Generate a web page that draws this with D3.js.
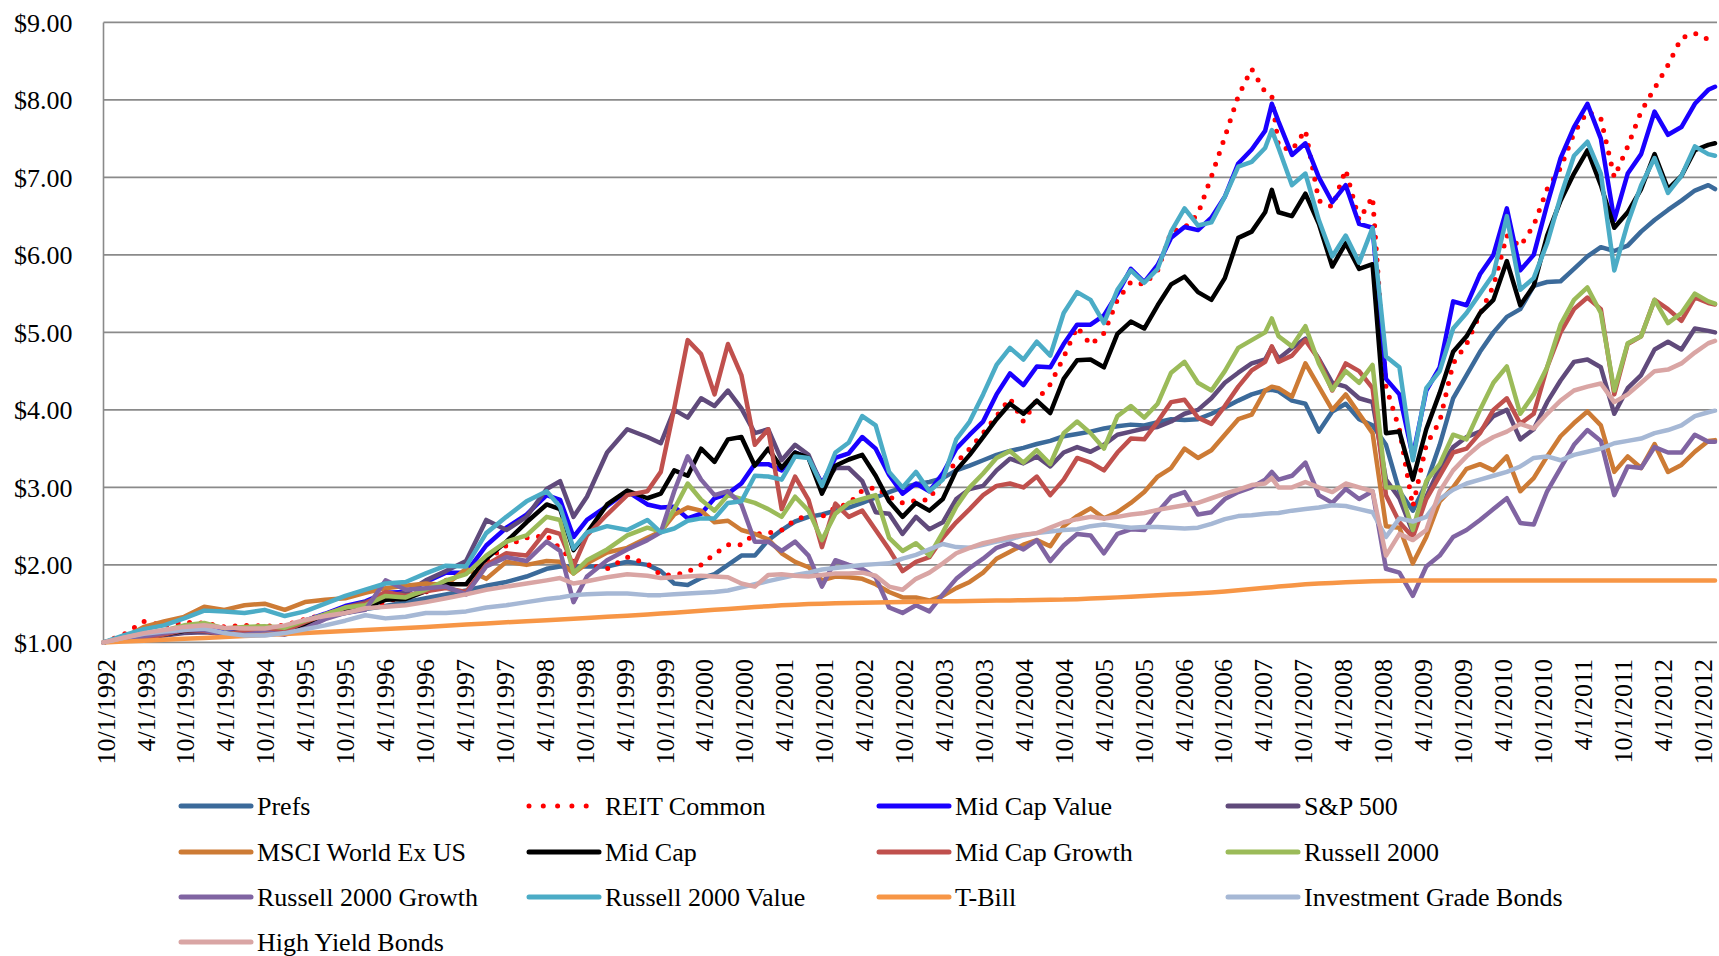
<!DOCTYPE html>
<html>
<head>
<meta charset="utf-8">
<script src="https://cdn.jsdelivr.net/npm/d3@7"></script>
<style>
  body { margin: 0; background: #fff; }
  svg { display: block; font-family: "Liberation Serif", "Times New Roman", serif; }
</style>
</head>
<body>
<script>
"use strict";

// months after 10/1/1992 for each data point
const months = [0,3,6,9,12,15,18,21,24,27,30,33,36,39,42,45,48,51,54,57,60,63,66,
  68,70,72,75,78,81,
  83,85,87,89,91,93,95,97,99,101,
  103,105,107,109,111,113,115,117,119,121,
  123,125,127,129,131,133,135,137,139,141,
  143,145,147,149,151,153,155,157,159,161,
  163,165,167,169,171,173,174,175,177,179,181,
  183,185,187,189,191,193,195,197,199,201,
  203,205,207,209,211,213,215,217,219,221,
  223,225,227,229,231,233,235,237,239,240];

const tickLabels = ["10/1/1992","4/1/1993","10/1/1993","4/1/1994","10/1/1994","4/1/1995","10/1/1995",
  "4/1/1996","10/1/1996","4/1/1997","10/1/1997","4/1/1998","10/1/1998","4/1/1999","10/1/1999",
  "4/1/2000","10/1/2000","4/1/2001","10/1/2001","4/1/2002","10/1/2002","4/1/2003","10/1/2003",
  "4/1/2004","10/1/2004","4/1/2005","10/1/2005","4/1/2006","10/1/2006","4/1/2007","10/1/2007",
  "4/1/2008","10/1/2008","4/1/2009","10/1/2009","4/1/2010","10/1/2010","4/1/2011","10/1/2011",
  "4/1/2012","10/1/2012"];

const yTicks = [1,2,3,4,5,6,7,8,9];

const prefs = [1.00,1.05,1.10,1.14,1.17,1.19,1.16,1.15,1.16,1.21,1.27,1.33,1.38,1.43,1.47,1.52,1.57,1.62,1.67,1.73,1.78,1.85,1.95,
  1.98,1.98,1.98,1.98,2.04,2.00,
  1.92,1.76,1.74,1.83,1.88,2.00,2.12,2.12,2.32,2.45,
  2.56,2.62,2.65,2.70,2.74,2.80,2.87,2.94,3.00,3.04,
  3.07,3.12,3.22,3.28,3.35,3.42,3.47,3.51,3.56,3.60,
  3.66,3.69,3.72,3.76,3.79,3.81,3.80,3.84,3.88,3.87,
  3.88,3.95,4.03,4.12,4.20,4.25,4.26,4.24,4.12,4.08,3.72,
  3.98,4.08,3.88,3.80,3.55,2.95,2.70,3.05,3.55,4.15,
  4.45,4.75,5.00,5.20,5.30,5.60,5.65,5.66,5.82,5.98,
  6.10,6.05,6.12,6.30,6.45,6.58,6.70,6.83,6.90,6.85];

const reit = [1.00,1.10,1.27,1.22,1.26,1.25,1.20,1.22,1.21,1.22,1.30,1.36,1.40,1.45,1.52,1.60,1.65,1.80,1.90,2.05,2.25,2.35,2.38,
  2.21,2.05,2.00,1.95,2.10,2.02,
  1.87,1.87,1.91,2.00,2.14,2.26,2.26,2.40,2.41,2.45,
  2.58,2.64,2.62,2.74,2.79,2.96,3.00,2.88,2.80,2.83,
  2.84,3.15,3.32,3.50,3.70,3.92,4.15,3.85,4.13,4.33,
  4.68,5.07,4.84,4.99,5.42,5.65,5.62,5.80,6.30,6.35,
  6.53,7.01,7.52,8.05,8.40,8.10,8.05,7.40,7.35,7.61,6.70,
  6.62,7.10,6.45,6.75,4.30,3.75,2.75,3.55,3.85,4.60,
  4.85,5.24,5.60,6.25,6.11,6.38,6.85,7.12,7.57,7.85,
  7.76,7.00,7.40,7.85,8.15,8.45,8.80,8.86,8.78,8.76];

const midCapValue = [1.00,1.05,1.09,1.13,1.18,1.20,1.15,1.19,1.17,1.18,1.28,1.37,1.47,1.53,1.64,1.65,1.78,1.90,1.90,2.25,2.48,2.65,2.90,
  2.84,2.36,2.58,2.76,2.95,2.78,
  2.74,2.75,2.60,2.66,2.86,2.92,3.05,3.30,3.30,3.22,
  3.45,3.38,3.05,3.38,3.44,3.65,3.50,3.16,2.92,3.05,
  2.95,3.18,3.50,3.68,3.85,4.20,4.47,4.32,4.56,4.55,
  4.85,5.10,5.10,5.22,5.50,5.82,5.65,5.87,6.22,6.36,
  6.32,6.48,6.75,7.18,7.36,7.60,7.95,7.72,7.29,7.44,7.00,
  6.68,6.90,6.40,6.35,4.40,4.20,3.40,4.25,4.55,5.40,
  5.35,5.75,6.00,6.60,5.80,6.00,6.65,7.25,7.65,7.95,
  7.50,6.45,7.05,7.30,7.85,7.55,7.65,7.95,8.13,8.17];

const sp500 = [1.00,1.04,1.07,1.09,1.12,1.13,1.11,1.13,1.16,1.18,1.26,1.34,1.45,1.52,1.60,1.64,1.80,1.92,2.05,2.58,2.45,2.62,2.98,
  3.08,2.62,2.88,3.45,3.75,3.65,
  3.57,4.00,3.90,4.15,4.05,4.25,4.02,3.70,3.75,3.35,
  3.55,3.42,3.02,3.25,3.25,3.08,2.68,2.66,2.40,2.62,
  2.46,2.55,2.85,2.98,3.02,3.22,3.37,3.31,3.40,3.27,
  3.45,3.52,3.46,3.55,3.68,3.72,3.76,3.78,3.85,3.95,
  4.00,4.15,4.35,4.48,4.60,4.65,4.81,4.66,4.80,4.92,4.66,
  4.35,4.30,4.15,4.10,3.10,2.86,2.42,2.88,3.25,3.52,
  3.65,3.72,3.92,4.00,3.62,3.75,4.10,4.38,4.62,4.65,
  4.55,3.95,4.28,4.45,4.78,4.88,4.78,5.05,5.02,5.00];

const msciWorldExUS = [1.00,1.06,1.20,1.27,1.33,1.46,1.42,1.48,1.50,1.42,1.52,1.55,1.57,1.64,1.70,1.73,1.76,1.74,1.95,1.82,2.04,2.00,2.05,
  2.04,1.89,2.02,2.16,2.22,2.35,
  2.43,2.65,2.74,2.70,2.55,2.57,2.45,2.40,2.33,2.15,
  2.04,1.97,1.80,1.85,1.84,1.82,1.75,1.65,1.58,1.58,
  1.54,1.60,1.70,1.78,1.90,2.08,2.17,2.26,2.32,2.24,
  2.50,2.63,2.73,2.60,2.68,2.80,2.94,3.14,3.25,3.50,
  3.38,3.48,3.68,3.88,3.94,4.25,4.30,4.28,4.17,4.60,4.30,
  4.00,4.20,3.95,3.70,2.50,2.48,2.02,2.36,2.82,3.00,
  3.24,3.30,3.22,3.40,2.95,3.12,3.40,3.66,3.83,3.98,
  3.80,3.20,3.40,3.25,3.56,3.20,3.29,3.46,3.60,3.61];

const midCap = [1.00,1.05,1.06,1.10,1.15,1.16,1.11,1.14,1.12,1.14,1.22,1.32,1.40,1.46,1.55,1.56,1.66,1.75,1.75,2.08,2.30,2.55,2.78,
  2.72,2.19,2.41,2.78,2.96,2.86,
  2.92,3.22,3.15,3.50,3.33,3.62,3.65,3.28,3.50,3.25,
  3.45,3.38,2.92,3.28,3.36,3.42,3.15,2.82,2.62,2.80,
  2.70,2.85,3.22,3.42,3.65,3.88,4.08,3.95,4.12,3.96,
  4.40,4.64,4.65,4.55,4.98,5.14,5.05,5.35,5.62,5.72,
  5.52,5.42,5.70,6.22,6.30,6.55,6.84,6.55,6.50,6.79,6.40,
  5.85,6.15,5.82,5.88,3.70,3.72,3.10,3.75,4.22,4.75,
  4.95,5.25,5.42,5.92,5.35,5.60,6.25,6.70,7.05,7.35,
  6.90,6.35,6.55,6.85,7.30,6.85,7.02,7.35,7.42,7.44];

const midCapGrowth = [1.00,1.06,1.05,1.10,1.16,1.15,1.10,1.14,1.16,1.15,1.26,1.36,1.45,1.50,1.65,1.60,1.66,1.70,1.65,2.00,2.15,2.12,2.45,
  2.40,1.98,2.38,2.65,2.90,2.95,
  3.20,4.02,4.90,4.72,4.20,4.85,4.45,3.55,3.75,2.72,
  3.14,2.84,2.23,2.79,2.62,2.70,2.45,2.20,1.92,2.04,
  2.10,2.35,2.55,2.72,2.90,3.02,3.05,3.00,3.14,2.90,
  3.10,3.38,3.32,3.22,3.45,3.63,3.62,3.85,4.10,4.13,
  3.90,3.82,4.05,4.30,4.51,4.62,4.82,4.62,4.70,4.90,4.65,
  4.25,4.60,4.50,4.28,2.90,2.55,2.36,2.85,3.15,3.45,
  3.50,3.70,4.00,4.15,3.82,3.95,4.55,5.00,5.30,5.45,
  5.30,4.20,4.85,4.95,5.42,5.30,5.15,5.45,5.38,5.36];

const russell2000 = [1.00,1.07,1.10,1.15,1.22,1.25,1.18,1.20,1.21,1.19,1.28,1.36,1.45,1.48,1.60,1.58,1.68,1.80,1.88,2.12,2.30,2.38,2.62,
  2.58,1.89,2.06,2.20,2.38,2.48,
  2.43,2.72,3.05,2.84,2.70,2.90,2.85,2.80,2.72,2.62,
  2.88,2.70,2.32,2.66,2.80,2.85,2.90,2.35,2.18,2.28,
  2.12,2.42,2.75,3.00,3.18,3.38,3.47,3.32,3.48,3.30,
  3.70,3.85,3.70,3.50,3.92,4.05,3.90,4.08,4.48,4.62,
  4.35,4.25,4.50,4.80,4.90,5.00,5.18,4.95,4.82,5.08,4.60,
  4.26,4.50,4.35,4.58,3.00,3.00,2.45,3.08,3.30,3.68,
  3.62,4.00,4.35,4.56,3.95,4.20,4.55,5.10,5.42,5.58,
  5.25,4.25,4.86,4.95,5.42,5.12,5.25,5.50,5.40,5.37];

const russell2000Growth = [1.00,1.05,1.08,1.12,1.16,1.16,1.10,1.10,1.13,1.10,1.18,1.30,1.38,1.42,1.80,1.68,1.70,1.72,1.62,1.98,2.10,2.05,2.30,
  2.18,1.52,1.85,2.06,2.20,2.32,
  2.42,2.95,3.40,3.10,2.90,2.95,2.78,2.30,2.30,2.18,
  2.30,2.12,1.72,2.06,2.00,1.95,1.84,1.45,1.38,1.48,
  1.40,1.62,1.82,1.96,2.08,2.22,2.28,2.20,2.32,2.05,
  2.25,2.40,2.38,2.15,2.40,2.46,2.45,2.68,2.88,2.94,
  2.65,2.68,2.85,2.94,3.00,3.10,3.20,3.10,3.15,3.32,2.90,
  2.80,2.98,2.85,2.95,1.95,1.90,1.60,1.98,2.12,2.36,
  2.45,2.58,2.72,2.86,2.54,2.52,2.95,3.25,3.55,3.74,
  3.60,2.90,3.27,3.25,3.52,3.45,3.45,3.68,3.59,3.59];

const russell2000Value = [1.00,1.09,1.17,1.22,1.31,1.41,1.40,1.38,1.42,1.34,1.40,1.50,1.60,1.68,1.76,1.78,1.89,1.99,1.98,2.41,2.62,2.82,2.95,
  2.75,2.21,2.42,2.50,2.45,2.58,
  2.42,2.47,2.57,2.60,2.60,2.80,2.82,3.15,3.14,3.10,
  3.40,3.38,3.02,3.45,3.58,3.92,3.80,3.20,3.00,3.20,
  2.95,3.10,3.62,3.85,4.20,4.58,4.80,4.65,4.88,4.70,
  5.25,5.52,5.42,5.12,5.55,5.80,5.64,5.82,6.30,6.60,
  6.38,6.42,6.75,7.14,7.20,7.38,7.61,7.38,6.90,7.05,6.45,
  5.98,6.25,5.90,6.35,4.69,4.55,3.35,4.28,4.50,5.05,
  5.25,5.50,5.75,6.50,5.55,5.70,6.15,6.75,7.28,7.46,
  7.05,5.80,6.41,6.90,7.25,6.80,7.02,7.40,7.30,7.28];

const tBill = [1.000,1.010,1.020,1.035,1.047,1.058,1.070,1.082,1.095,1.108,1.120,1.133,1.146,1.160,1.173,1.186,1.200,1.215,1.230,1.245,1.260,1.273,1.287,
  1.295,1.305,1.315,1.330,1.345,1.360,
  1.372,1.384,1.396,1.408,1.420,1.432,1.445,1.457,1.468,1.478,
  1.487,1.494,1.500,1.505,1.509,1.512,1.515,1.518,1.521,1.524,
  1.527,1.530,1.532,1.535,1.537,1.540,1.542,1.545,1.547,1.550,
  1.552,1.558,1.565,1.573,1.581,1.590,1.600,1.608,1.617,1.626,
  1.635,1.645,1.658,1.672,1.688,1.704,1.712,1.720,1.735,1.750,1.760,
  1.768,1.775,1.782,1.788,1.793,1.796,1.798,1.800,1.800,1.800,
  1.800,1.800,1.800,1.800,1.800,1.800,1.800,1.800,1.800,1.800,
  1.800,1.800,1.800,1.800,1.800,1.800,1.800,1.800,1.800,1.800];

const investmentGradeBonds = [1.00,1.06,1.11,1.14,1.16,1.18,1.12,1.09,1.09,1.12,1.17,1.22,1.28,1.35,1.31,1.33,1.38,1.38,1.40,1.45,1.48,1.52,1.56,
  1.58,1.61,1.62,1.63,1.63,1.61,
  1.61,1.62,1.63,1.64,1.65,1.67,1.71,1.75,1.79,1.83,
  1.87,1.90,1.94,1.96,1.98,2.00,2.01,2.02,2.08,2.13,
  2.20,2.27,2.23,2.22,2.26,2.30,2.33,2.38,2.41,2.43,
  2.45,2.46,2.50,2.52,2.50,2.48,2.49,2.49,2.48,2.47,
  2.48,2.53,2.59,2.63,2.64,2.66,2.665,2.67,2.70,2.72,2.74,
  2.77,2.76,2.72,2.68,2.36,2.60,2.56,2.62,2.85,2.97,
  3.05,3.10,3.15,3.20,3.27,3.38,3.40,3.35,3.42,3.46,
  3.50,3.57,3.60,3.63,3.70,3.74,3.80,3.92,3.97,3.99];

const highYieldBonds = [1.00,1.06,1.12,1.16,1.20,1.22,1.19,1.18,1.18,1.22,1.29,1.34,1.38,1.44,1.46,1.48,1.52,1.57,1.62,1.68,1.72,1.76,1.80,
  1.83,1.76,1.79,1.84,1.88,1.86,
  1.83,1.84,1.85,1.86,1.85,1.84,1.76,1.72,1.87,1.88,
  1.86,1.85,1.87,1.89,1.89,1.90,1.86,1.72,1.68,1.82,
  1.90,2.02,2.15,2.22,2.28,2.32,2.36,2.39,2.41,2.48,
  2.55,2.59,2.62,2.60,2.62,2.65,2.67,2.71,2.74,2.77,
  2.80,2.86,2.92,2.97,3.03,3.05,3.12,3.00,3.00,3.07,3.00,
  2.94,3.05,3.00,2.95,2.12,2.40,2.32,2.45,2.95,3.22,
  3.40,3.55,3.65,3.72,3.82,3.76,3.95,4.12,4.25,4.30,
  4.34,4.10,4.20,4.35,4.50,4.52,4.60,4.74,4.86,4.89];

const seriesNames = ["Prefs", "REIT Common", "Mid Cap Value", "S&P 500", "MSCI World Ex US", "Mid Cap",
  "Mid Cap Growth", "Russell 2000", "Russell 2000 Growth", "Russell 2000 Value", "T-Bill",
  "Investment Grade Bonds", "High Yield Bonds"];

const seriesValues = [prefs, reit, midCapValue, sp500, msciWorldExUS, midCap, midCapGrowth,
  russell2000, russell2000Growth, russell2000Value, tBill, investmentGradeBonds, highYieldBonds];

const seriesColors = ["#3B6A9A", "#FF0000", "#1A00FF", "#604A7B", "#CD7B35", "#000000", "#C0504D",
  "#9BBB59", "#8064A2", "#4BACC6", "#F79646", "#A6B8D5", "#D9A5A4"];

(function(){

  window.addEventListener("load", init);

  const measurements = {
    width: 1719,
    height: 956,
    left: 103.5,
    right: 1715,
    top: 22.4,
    bottom: 642.4,
    fontSize: 26
  };

  const gridColor = "#8a8a8a";
  let svgContainer = "";

  function init() {
    svgContainer = d3.select("body").append("svg")
      .attr("width", measurements.width)
      .attr("height", measurements.height)
      .style("background", "#fff");

    let scaleX = d3.scaleLinear()
      .domain([0, 240])
      .range([measurements.left, measurements.right]);

    let scaleY = d3.scaleLinear()
      .domain([1, 9])
      .range([measurements.bottom, measurements.top]);

    drawAxes(scaleX, scaleY);
    plotData(scaleX, scaleY);
    drawLegend();
  }

  function drawAxes(scaleX, scaleY) {
    // horizontal grid lines, the $1 one doubles as the x axis
    svgContainer.append("g")
      .selectAll("line")
      .data(yTicks)
      .enter()
      .append("line")
        .attr("x1", measurements.left)
        .attr("x2", 1717)
        .attr("y1", d => scaleY(d))
        .attr("y2", d => scaleY(d))
        .attr("stroke", gridColor)
        .attr("stroke-width", 1.6);

    // left axis line
    svgContainer.append("line")
      .attr("x1", measurements.left)
      .attr("x2", measurements.left)
      .attr("y1", scaleY(9))
      .attr("y2", scaleY(1))
      .attr("stroke", gridColor)
      .attr("stroke-width", 1.6);

    let money = d3.format("$.2f");
    svgContainer.append("g")
      .selectAll("text")
      .data(yTicks)
      .enter()
      .append("text")
        .attr("x", 72.5)
        .attr("y", d => scaleY(d))
        .attr("dy", "0.35em")
        .attr("text-anchor", "end")
        .style("font-size", measurements.fontSize + "px")
        .attr("fill", "#000")
        .text(d => money(d));

    // x labels are placed a touch tighter than the data months
    let labelX = d3.scaleLinear()
      .domain([0, tickLabels.length - 1])
      .range([106, 1703]);

    svgContainer.append("g")
      .selectAll("text")
      .data(tickLabels)
      .enter()
      .append("text")
        .attr("transform", (d, i) => "translate(" + labelX(i) + ",659) rotate(-90)")
        .attr("dy", "0.33em")
        .attr("text-anchor", "end")
        .style("font-size", measurements.fontSize + "px")
        .attr("fill", "#000")
        .text(d => d);
  }

  function plotData(scaleX, scaleY) {
    const line = d3.line()
      .x(d => scaleX(d[0]))
      .y(d => scaleY(d[1]));

    seriesValues.forEach(function(values, i) {
      let path = svgContainer.append("path")
        .datum(d3.zip(months, values))
        .attr("fill", "none")
        .attr("stroke", seriesColors[i])
        .attr("stroke-linejoin", "round")
        .attr("stroke-linecap", "round")
        .attr("d", line);

      if (seriesNames[i] == "REIT Common") {
        path.attr("stroke-width", 5)
          .attr("stroke-dasharray", "0 11.5");
      } else {
        path.attr("stroke-width", 4.5);
      }
    });
  }

  function drawLegend() {
    const colX = [181, 529, 879, 1228];
    const rowY = [806, 852, 897, 942];

    let items = svgContainer.append("g")
      .selectAll("g")
      .data(seriesNames)
      .enter()
      .append("g")
        .attr("transform", (d, i) => "translate(" + colX[i % 4] + "," + rowY[Math.floor(i / 4)] + ")");

    items.append("line")
      .attr("x1", 0)
      .attr("x2", 70)
      .attr("y1", 0)
      .attr("y2", 0)
      .attr("stroke", (d, i) => seriesColors[i])
      .attr("stroke-linecap", "round")
      .attr("stroke-width", 5)
      .attr("stroke-dasharray", d => d == "REIT Common" ? "0 14.3" : null);

    items.append("text")
      .attr("x", 76)
      .attr("y", 0)
      .attr("dy", "0.35em")
      .style("font-size", measurements.fontSize + "px")
      .attr("fill", "#000")
      .text(d => d);
  }

})();
</script>
</body>
</html>
